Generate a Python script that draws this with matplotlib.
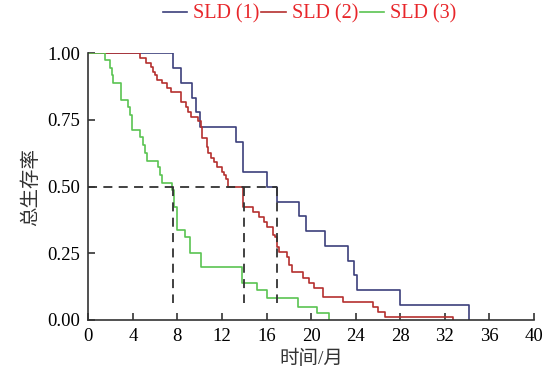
import matplotlib.pyplot as plt

# survival curves (time in months, survival after each drop)
t1 = [0, 7.58, 8.29, 9.34, 9.64, 10.03, 13.26, 13.91, 16.07, 16.91, 18.89, 19.54,
      21.27, 23.34, 23.85, 24.15, 27.98, 34.2]
s1 = [1.0, 0.944, 0.889, 0.833, 0.778, 0.722, 0.667, 0.556, 0.5, 0.444, 0.389, 0.333,
      0.278, 0.222, 0.167, 0.111, 0.056, 0.0]

t2 = [0, 4.64, 5.18, 5.60, 5.78, 5.99, 6.19, 6.59, 7.09, 7.40, 8.29, 8.77, 8.98, 9.22,
      9.87, 10.09, 10.23, 10.63, 10.77, 10.99, 11.28, 11.58, 11.97, 12.18, 12.36, 12.51,
      13.91, 14.81, 15.35, 15.80, 16.07, 16.61, 16.76, 16.91, 17.09, 17.81, 18.02, 18.26,
      19.30, 19.84, 20.29, 21.10, 22.89, 25.58, 26.0, 26.63, 32.76]
s2 = [1.0, 0.981, 0.965, 0.95, 0.931, 0.919, 0.9, 0.887, 0.871, 0.854, 0.818, 0.8, 0.781, 0.76,
      0.746, 0.723, 0.681, 0.648, 0.625, 0.606, 0.591, 0.573, 0.556, 0.544, 0.528, 0.5,
      0.425, 0.406, 0.387, 0.369, 0.35, 0.319, 0.31, 0.275, 0.256, 0.237, 0.206, 0.181,
      0.159, 0.14, 0.121, 0.087, 0.069, 0.05, 0.031, 0.0125, 0.0]

t3 = [0, 1.50, 1.95, 2.10, 2.24, 2.94, 3.59, 3.74, 3.90, 4.64, 4.88, 5.09, 5.30, 6.28,
      6.44, 6.59, 7.49, 7.69, 7.99, 8.68, 9.13, 10.09, 13.77, 15.12, 16.07, 18.80, 20.56, 21.63]
s3 = [1.0, 0.973, 0.944, 0.919, 0.887, 0.825, 0.8, 0.769, 0.712, 0.685, 0.656, 0.625, 0.597, 0.573,
      0.544, 0.512, 0.487, 0.425, 0.337, 0.31, 0.252, 0.198, 0.14, 0.112, 0.081, 0.05, 0.025, 0.0]

labels = ["SLD (1)", "SLD (2)", "SLD (3)"]
medians = [16.9, 14.0, 7.6]

plt.rcParams['font.family'] = ['Liberation Serif', 'Noto Sans CJK SC']

fig = plt.figure(figsize=(5.5, 3.79), dpi=100)
ax = fig.add_axes([0.1605, 0.1557, 0.8105, 0.7037])

ax.step(t1, s1, where='post', color='#3c3f7c', lw=1.2, label=labels[0])
ax.step(t2, s2, where='post', color='#b5302f', lw=1.2, label=labels[1])
ax.step(t3, s3, where='post', color='#5ac452', lw=1.2, label=labels[2])

# median lines
ax.plot([0, max(medians)], [0.5, 0.5], color='#333333', lw=1.3, ls=(0, (5, 3.5)))
for m in medians:
    ax.plot([m, m], [0.5, 0.065], color='#333333', lw=1.3, ls=(0, (5, 3.5)))

ax.set_xlim(0, 40)
ax.set_ylim(0, 1)
ax.set_xticks(range(0, 41, 4))
ax.set_yticks([0, 0.25, 0.5, 0.75, 1.0])
ax.set_yticklabels(["0.00", "0.25", "0.50", "0.75", "1.00"])
ax.tick_params(direction='in', length=5, width=1.2, labelsize=13.5, pad=6, color='#333333')
for side in ['top', 'right']:
    ax.spines[side].set_visible(False)
for side in ['left', 'bottom']:
    ax.spines[side].set_linewidth(1.2)
    ax.spines[side].set_color('#333333')

ax.set_xlabel("时间/月", fontsize=14, labelpad=3, color='#333333')
ax.set_ylabel("总生存率", fontsize=14, labelpad=5, color='#333333')

leg = fig.legend(loc='center', bbox_to_anchor=(0.563, 0.963), ncol=3, frameon=False,
                 fontsize=14.5, handlelength=1.2, handletextpad=0.3, columnspacing=0.1,
                 labelcolor='#e8262a')

fig.savefig("out.png", dpi=100)
